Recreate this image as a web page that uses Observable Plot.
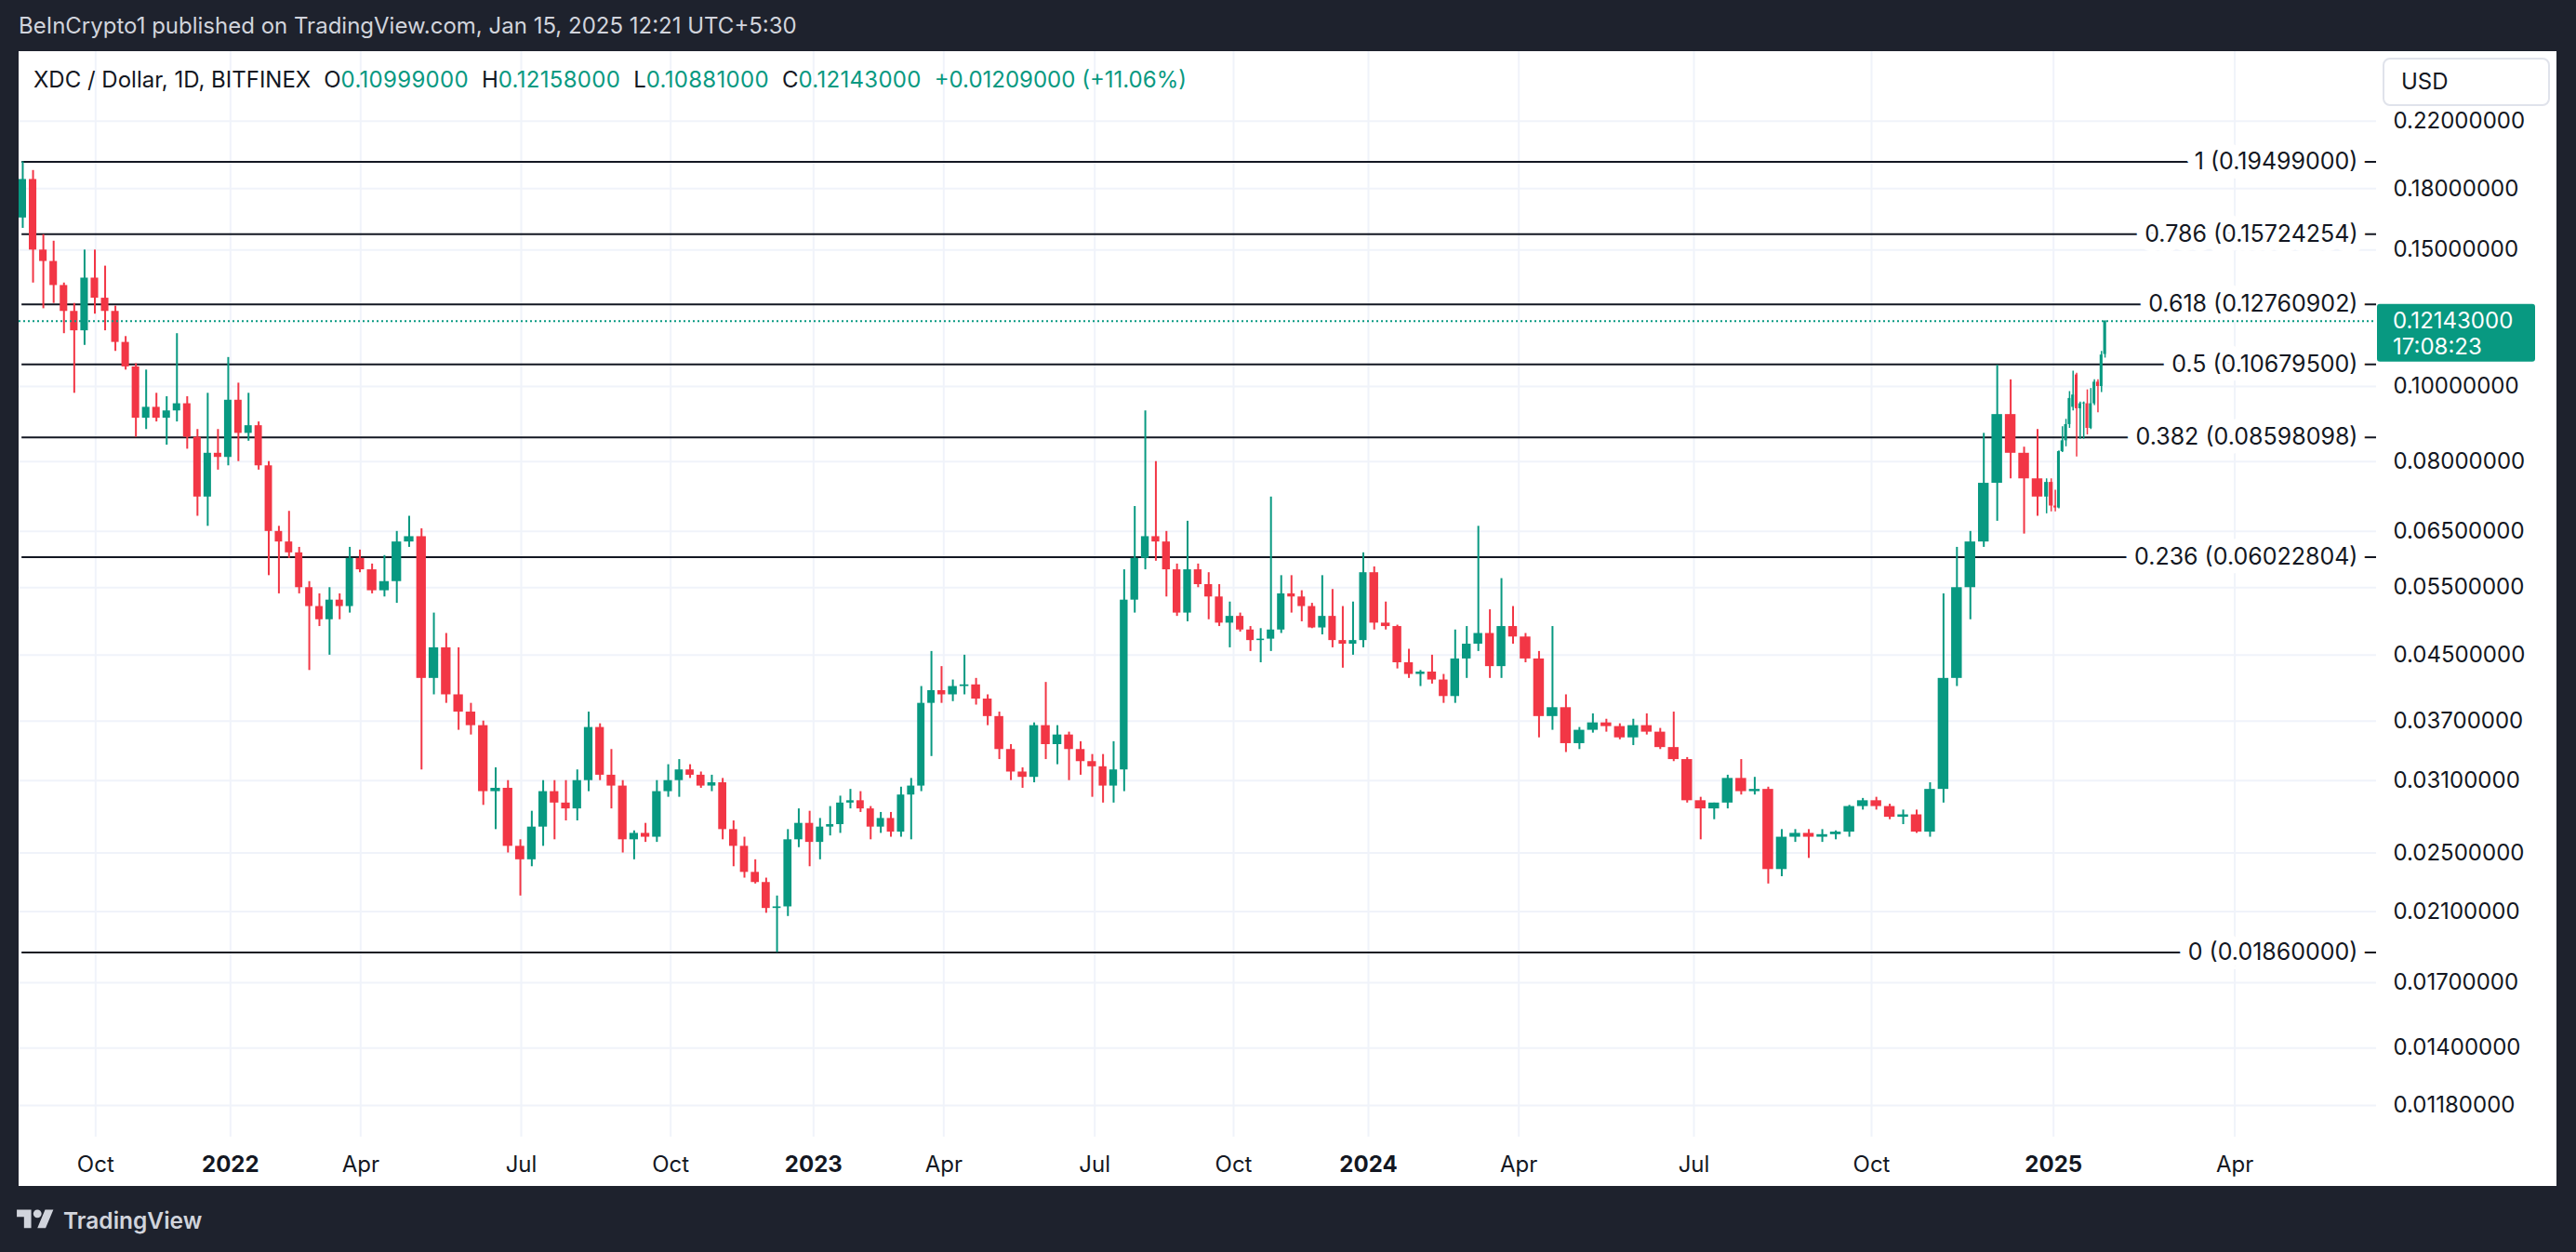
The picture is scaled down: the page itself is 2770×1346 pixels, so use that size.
<!DOCTYPE html>
<html>
<head>
<meta charset="utf-8">
<script src="https://cdn.jsdelivr.net/npm/d3@7"></script>
<script src="https://cdn.jsdelivr.net/npm/@observablehq/plot@0.6"></script>
<style>
  html, body { margin:0; padding:0; }
  body { width:2770px; height:1346px; background:#1e222d; position:relative; overflow:hidden; font-family: Inter, "Noto Sans", sans-serif; }
  #hdr { position:absolute; left:20px; top:14px; font-size:24px; line-height:28px; color:#d1d4dc; white-space:nowrap; }
  #panel { position:absolute; left:20px; top:55px; width:2729px; height:1220px; background:#fff; overflow:hidden; }
  #chart { position:absolute; left:0; top:0; }
  #legend { position:absolute; left:16px; top:17px; font-size:24px; line-height:28px; color:#131722; white-space:nowrap; }
  #legend .v { color:#089981; letter-spacing:0.3px; }
  #legend .k { margin-left:14px; }
  #legend .chg { margin-left:14px; color:#089981; }
  #usd { position:absolute; left:2542px; top:7px; width:180px; height:52px; box-sizing:border-box; border:2px solid #e0e3eb; border-radius:8px; font-size:24px; line-height:48px; padding-left:18px; color:#131722; background:#fff; }
  #footer { position:absolute; left:18px; top:1296px; display:flex; align-items:center; color:#d1d4dc; font-size:24.5px; font-weight:600; }
  #footer svg { margin-right:10px; }
</style>
</head>
<body>
<div id="hdr">BeInCrypto1 published on TradingView.com, Jan 15, 2025 12:21 UTC+5:30</div>
<div id="panel">
  <div id="chart"></div>
  <div id="legend"></div>
  <div id="usd">USD</div>
</div>
<div id="footer"><svg width="40" height="31" viewBox="0 0 36 28" fill="#d1d4dc"><path d="M14 22H7V11H0V4h14v18zM28 22h-8l7.5-18h8L28 22z"/><circle cx="20" cy="8" r="4"/></svg><span>TradingView</span></div>
<script>
// ---------- data ----------
// weekly candles (weeks starting Monday 2021-08-09 ... 2024-12-23)
const firstMonday = "2021-08-09";
const open = [
  0.165, 0.185, 0.150, 0.145, 0.135, 0.125, 0.118, 0.138, 0.130, 0.125,
  0.114, 0.106, 0.091, 0.094, 0.091, 0.093, 0.095, 0.086, 0.072, 0.082,
  0.081, 0.096, 0.087, 0.089, 0.079, 0.065, 0.063, 0.061, 0.055, 0.052,
  0.050, 0.053, 0.052, 0.060, 0.058, 0.0545, 0.056, 0.063, 0.064, 0.042,
  0.046, 0.040, 0.038, 0.0365, 0.030, 0.0303, 0.0255, 0.0245, 0.027, 0.030,
  0.029, 0.0285, 0.031, 0.0363, 0.0315, 0.0305, 0.026, 0.0265, 0.0262, 0.030,
  0.031, 0.032, 0.0315, 0.0305, 0.0308, 0.0268, 0.0255, 0.0236, 0.0229, 0.0212,
  0.0213, 0.026, 0.0273, 0.0258, 0.027, 0.0272, 0.029, 0.0292, 0.0285, 0.027,
  0.0277, 0.0266, 0.0297, 0.0305, 0.039, 0.0405, 0.040, 0.041, 0.0412, 0.0395,
  0.0375, 0.034, 0.0318, 0.0313, 0.0365, 0.0345, 0.0355, 0.034, 0.0328, 0.0323,
  0.0305, 0.032, 0.053, 0.060, 0.064, 0.063, 0.058, 0.051, 0.058, 0.0555,
  0.0535, 0.0495, 0.0505, 0.0485, 0.047, 0.0472, 0.0485, 0.054, 0.0535, 0.052,
  0.0488, 0.0505, 0.047, 0.0465, 0.047, 0.0575, 0.0495, 0.049, 0.044, 0.0425,
  0.0428, 0.0418, 0.0398, 0.0445, 0.0465, 0.048, 0.0435, 0.049, 0.0475, 0.0445,
  0.0375, 0.0385, 0.0346, 0.036, 0.0368, 0.0364, 0.0352, 0.0365, 0.0358, 0.0342,
  0.033, 0.0292, 0.0285, 0.029, 0.0312, 0.030, 0.0302, 0.0238, 0.0262, 0.0265,
  0.0262, 0.0264, 0.0266, 0.0287, 0.0292, 0.0287, 0.0278, 0.028, 0.0266, 0.0302,
  0.042, 0.055, 0.063, 0.075, 0.092, 0.082, 0.076
];
const high = [
  0.195, 0.190, 0.157, 0.154, 0.136, 0.128, 0.150, 0.150, 0.143, 0.127,
  0.116, 0.107, 0.105, 0.098, 0.097, 0.117, 0.097, 0.088, 0.098, 0.088,
  0.109, 0.101, 0.098, 0.090, 0.080, 0.066, 0.069, 0.062, 0.056, 0.054,
  0.055, 0.054, 0.062, 0.0615, 0.059, 0.0605, 0.065, 0.068, 0.0655, 0.051,
  0.048, 0.046, 0.039, 0.037, 0.0322, 0.031, 0.026, 0.0283, 0.031, 0.031,
  0.031, 0.032, 0.038, 0.0367, 0.034, 0.031, 0.0267, 0.0273, 0.031, 0.0325,
  0.033, 0.0325, 0.0318, 0.0315, 0.0312, 0.0275, 0.0262, 0.0245, 0.0232, 0.022,
  0.0268, 0.0285, 0.0283, 0.0277, 0.0287, 0.0296, 0.0302, 0.030, 0.0287, 0.0282,
  0.0282, 0.0304, 0.0312, 0.041, 0.0455, 0.0435, 0.0418, 0.045, 0.042, 0.040,
  0.038, 0.0345, 0.0322, 0.0368, 0.0415, 0.0365, 0.0358, 0.0348, 0.0335, 0.0335,
  0.0348, 0.058, 0.070, 0.093, 0.080, 0.065, 0.059, 0.067, 0.059, 0.0575,
  0.0555, 0.0527, 0.051, 0.049, 0.0487, 0.072, 0.057, 0.057, 0.0545, 0.0525,
  0.057, 0.0547, 0.052, 0.0527, 0.061, 0.0585, 0.0527, 0.0492, 0.0458, 0.043,
  0.045, 0.0425, 0.0485, 0.049, 0.066, 0.0515, 0.0565, 0.052, 0.048, 0.0455,
  0.049, 0.040, 0.0363, 0.0378, 0.0372, 0.0367, 0.0372, 0.0378, 0.0362, 0.038,
  0.0332, 0.0295, 0.029, 0.0315, 0.033, 0.0313, 0.0304, 0.0268, 0.0268, 0.0268,
  0.0268, 0.0267, 0.0288, 0.0294, 0.0295, 0.0289, 0.0284, 0.0284, 0.0308, 0.054,
  0.062, 0.065, 0.087, 0.1065, 0.102, 0.0835, 0.088
];
const low = [
  0.160, 0.136, 0.126, 0.128, 0.117, 0.098, 0.113, 0.124, 0.118, 0.111,
  0.105, 0.086, 0.088, 0.090, 0.084, 0.090, 0.083, 0.068, 0.066, 0.078,
  0.079, 0.080, 0.085, 0.078, 0.057, 0.054, 0.060, 0.054, 0.043, 0.049,
  0.045, 0.050, 0.051, 0.0575, 0.054, 0.0535, 0.0525, 0.062, 0.032, 0.040,
  0.039, 0.036, 0.0355, 0.0288, 0.0268, 0.025, 0.022, 0.024, 0.0255, 0.026,
  0.0275, 0.0275, 0.030, 0.031, 0.0285, 0.025, 0.0245, 0.0258, 0.0258, 0.0295,
  0.0295, 0.0312, 0.0303, 0.030, 0.026, 0.024, 0.0232, 0.0228, 0.0209, 0.0186,
  0.0207, 0.0254, 0.024, 0.0245, 0.0263, 0.0265, 0.0285, 0.0282, 0.026, 0.0265,
  0.0262, 0.0262, 0.026, 0.030, 0.0333, 0.039, 0.0392, 0.040, 0.0388, 0.0365,
  0.033, 0.031, 0.0303, 0.0308, 0.033, 0.0325, 0.031, 0.0315, 0.0295, 0.029,
  0.029, 0.030, 0.051, 0.058, 0.0595, 0.0535, 0.0505, 0.0497, 0.055, 0.050,
  0.049, 0.046, 0.0482, 0.0455, 0.044, 0.0455, 0.048, 0.051, 0.0497, 0.0487,
  0.0478, 0.046, 0.0433, 0.045, 0.046, 0.0485, 0.0485, 0.0432, 0.042, 0.041,
  0.0413, 0.039, 0.039, 0.042, 0.0455, 0.042, 0.042, 0.0465, 0.044, 0.0352,
  0.036, 0.0337, 0.034, 0.0357, 0.0358, 0.035, 0.0344, 0.0355, 0.034, 0.0328,
  0.029, 0.026, 0.0276, 0.0285, 0.0297, 0.0297, 0.0228, 0.0233, 0.0258, 0.0246,
  0.0258, 0.026, 0.0262, 0.0284, 0.0284, 0.0276, 0.0272, 0.0265, 0.0262, 0.029,
  0.041, 0.050, 0.062, 0.067, 0.076, 0.0645, 0.068
];
const close = [
  0.185, 0.150, 0.145, 0.135, 0.125, 0.118, 0.138, 0.130, 0.125, 0.114,
  0.106, 0.091, 0.094, 0.091, 0.093, 0.095, 0.086, 0.072, 0.082, 0.081,
  0.096, 0.087, 0.089, 0.079, 0.065, 0.063, 0.061, 0.055, 0.052, 0.050,
  0.053, 0.052, 0.060, 0.058, 0.0545, 0.056, 0.063, 0.064, 0.042, 0.046,
  0.040, 0.038, 0.0365, 0.030, 0.0303, 0.0255, 0.0245, 0.027, 0.030, 0.029,
  0.0285, 0.031, 0.0363, 0.0315, 0.0305, 0.026, 0.0265, 0.0262, 0.030, 0.031,
  0.032, 0.0315, 0.0305, 0.0308, 0.0268, 0.0255, 0.0236, 0.0229, 0.0212, 0.0213,
  0.026, 0.0273, 0.0258, 0.027, 0.0272, 0.029, 0.0292, 0.0285, 0.027, 0.0277,
  0.0266, 0.0297, 0.0305, 0.039, 0.0405, 0.040, 0.041, 0.0412, 0.0395, 0.0375,
  0.034, 0.0318, 0.0313, 0.0365, 0.0345, 0.0355, 0.034, 0.0328, 0.0323, 0.0305,
  0.032, 0.053, 0.060, 0.064, 0.063, 0.058, 0.051, 0.058, 0.0555, 0.0535,
  0.0495, 0.0505, 0.0485, 0.047, 0.0472, 0.0485, 0.054, 0.0535, 0.052, 0.0488,
  0.0505, 0.047, 0.0465, 0.047, 0.0575, 0.0495, 0.049, 0.044, 0.0425, 0.0428,
  0.0418, 0.0398, 0.0445, 0.0465, 0.048, 0.0435, 0.049, 0.0475, 0.0445, 0.0375,
  0.0385, 0.0346, 0.036, 0.0368, 0.0364, 0.0352, 0.0365, 0.0358, 0.0342, 0.033,
  0.0292, 0.0285, 0.029, 0.0312, 0.030, 0.0302, 0.0238, 0.0262, 0.0265, 0.0262,
  0.0264, 0.0266, 0.0287, 0.0292, 0.0287, 0.0278, 0.028, 0.0266, 0.0302, 0.042,
  0.055, 0.063, 0.075, 0.092, 0.082, 0.076, 0.072
];
// daily candles for the last stretch (2024-12-30 ... 2025-01-15)
const firstDay = "2024-12-30";
const dOpen  = [0.0720, 0.0752, 0.0701, 0.0697, 0.0824, 0.0851, 0.0893, 0.0940, 0.1035, 0.0936, 0.0950, 0.0950, 0.0883, 0.0950, 0.1013, 0.1000, 0.10999];
const dHigh  = [0.0760, 0.0760, 0.0735, 0.0826, 0.0887, 0.0907, 0.0985, 0.1047, 0.1040, 0.0955, 0.0955, 0.0990, 0.0994, 0.1020, 0.1020, 0.1110, 0.12158];
const dLow   = [0.0685, 0.0689, 0.0689, 0.0695, 0.0822, 0.0836, 0.0883, 0.0930, 0.0811, 0.0855, 0.0855, 0.0866, 0.0880, 0.0945, 0.0925, 0.0982, 0.10881];
const dClose = [0.0752, 0.0701, 0.0697, 0.0824, 0.0851, 0.0893, 0.0965, 0.0975, 0.0936, 0.0950, 0.0952, 0.0883, 0.0950, 0.1013, 0.1000, 0.1098, 0.12143];
// last daily bar shown in the legend
const lastDay = { o: 0.10999, h: 0.12158, l: 0.10881, c: 0.12143, chg: 0.01209, pct: 11.06 };
const countdown = "17:08:23";

// price axis ticks (log scale)
const priceTicks = [0.22, 0.18, 0.15, 0.10, 0.08, 0.065, 0.055, 0.045, 0.037, 0.031, 0.025, 0.021, 0.017, 0.014, 0.0118];
// time axis ticks
const tickDates = ["2021-10-01","2022-01-01","2022-04-01","2022-07-01","2022-10-01","2023-01-01","2023-04-01","2023-07-01","2023-10-01","2024-01-01","2024-04-01","2024-07-01","2024-10-01","2025-01-01","2025-04-01"];
const tickLabels = ["Oct","2022","Apr","Jul","Oct","2023","Apr","Jul","Oct","2024","Apr","Jul","Oct","2025","Apr"];
// Fibonacci retracement
const fibLevels = [1, 0.786, 0.618, 0.5, 0.382, 0.236, 0];
const fibPrices = [0.19499, 0.15724254, 0.12760902, 0.106795, 0.08598098, 0.06022804, 0.0186];
const fibStart = "2021-08-12";

// ---------- build ----------
const up = "#089981", down = "#f23645";
const dayStart = new Date(firstDay);
const starts = d3.utcMonday.range(new Date(firstMonday), dayStart);
const weekly = [];
for (let i = 0; i < Math.min(starts.length, open.length); i++) {
  const s = starts[i];
  const e = new Date(Math.min(+d3.utcDay.offset(s, 7), +dayStart));
  weekly.push({ start: s, end: e, mid: new Date((+s + +e) / 2), o: open[i], h: high[i], l: low[i], c: close[i], col: close[i] >= open[i] ? up : down });
}
const daily = dOpen.map((o, i) => {
  const s = d3.utcDay.offset(dayStart, i), e = d3.utcDay.offset(dayStart, i + 1);
  return { start: s, end: e, mid: new Date((+s + +e) / 2), o, h: dHigh[i], l: dLow[i], c: dClose[i], col: dClose[i] >= o ? up : down };
});
const fibs = fibLevels.map((lv, i) => ({ level: lv, price: fibPrices[i], label: `${lv} (${fibPrices[i].toFixed(8)})` }));
const ticks = tickDates.map((d, i) => ({ date: new Date(d), label: tickLabels[i], year: /^\d{4}$/.test(tickLabels[i]) }));

// x scale calibration (TradingView spaces bars by index, so a piecewise time scale)
const W = 2729, H = 1220, MR = 194, MB = 53;
const xAnchorDates = ["2021-08-10","2021-10-01","2022-01-01","2022-04-01","2022-07-01","2022-10-01","2023-01-01","2023-04-01","2023-07-01","2023-10-01","2024-01-01","2024-04-01","2024-07-01","2024-10-01","2024-12-30","2025-01-01","2025-01-16","2025-04-01","2025-06-23"].map(d => new Date(d));
const xAnchorPx = [0, 82.3, 227.3, 367.3, 540, 700.7, 854.3, 994.3, 1156.7, 1306, 1451, 1612.7, 1801, 1992, 2177.7, 2187.7, 2245, 2382.6, W - MR];
const xEnd = xAnchorDates[xAnchorDates.length - 1];

const grid = "#f0f3fa";
const plot = Plot.plot({
  width: W, height: H,
  marginLeft: 0, marginRight: MR, marginTop: 0, marginBottom: MB,
  style: { background: "transparent", fontFamily: "Inter, 'Noto Sans', sans-serif", fontSize: "24px", color: "#131722", overflow: "visible" },
  x: { type: "utc", domain: xAnchorDates, range: xAnchorPx, axis: null },
  y: { type: "log", domain: [0.010745, 0.2705], axis: null },
  color: { type: "identity" },
  marks: [
    Plot.ruleY(priceTicks, { stroke: grid, strokeWidth: 2 }),
    Plot.ruleX(ticks, { x: "date", stroke: grid, strokeWidth: 2 }),
    Plot.ruleY(fibs, { y: "price", x1: new Date(fibStart), x2: xEnd, stroke: "#131722", strokeWidth: 2 }),
    Plot.ruleX(weekly, { x: "mid", y1: "l", y2: "h", stroke: "col", strokeWidth: 2 }),
    Plot.rect(weekly, { x1: "start", x2: "end", y1: "o", y2: "c", fill: "col", insetLeft: 1.5, insetRight: 1.5 }),
    Plot.ruleX(daily, { x: "mid", y1: "l", y2: "h", stroke: "col", strokeWidth: 1.5 }),
    Plot.rect(daily, { x1: "start", x2: "end", y1: "o", y2: "c", fill: "col", insetLeft: 0.4, insetRight: 0.4 }),
    Plot.text(fibs, { y: "price", text: "label", frameAnchor: "right", dx: -20, textAnchor: "end", fill: "#131722", stroke: "white", strokeWidth: 20, strokeLinejoin: "round", paintOrder: "stroke", fontSize: 25 }),
    Plot.ruleY([lastDay.c], { stroke: up, strokeWidth: 2, strokeDasharray: "2,3" }),
    Plot.text(priceTicks, { y: d => d, text: d => d.toFixed(8), frameAnchor: "right", dx: 18, textAnchor: "start", fill: "#131722", fontSize: 24 }),
    Plot.text(ticks.filter(t => !t.year), { x: "date", text: "label", frameAnchor: "bottom", dy: 37, fill: "#131722", fontSize: 24 }),
    Plot.text(ticks.filter(t => t.year), { x: "date", text: "label", frameAnchor: "bottom", dy: 37, fill: "#131722", fontSize: 24, fontWeight: "bold" })
  ]
});
document.getElementById("chart").appendChild(plot);

// current price tag on the price axis
const yv = plot.scale("y").apply(lastDay.c);
const right = W - MR;
const g = d3.select(plot).append("g").attr("font-family", "Inter, 'Noto Sans', sans-serif").attr("font-size", 24).attr("text-anchor", "start");
g.append("rect").attr("x", right + 1).attr("y", yv - 18).attr("width", 170).attr("height", 62).attr("rx", 3).attr("fill", up);
g.append("text").attr("x", right + 18).attr("y", yv).attr("dy", "0.35em").attr("fill", "white").text(lastDay.c.toFixed(8));
g.append("text").attr("x", right + 18).attr("y", yv + 28).attr("dy", "0.35em").attr("fill", "white").text(countdown);

// legend
const f8 = v => v.toFixed(8);
document.getElementById("legend").innerHTML =
  `XDC / Dollar, 1D, BITFINEX` +
  `<span class="k">O</span><span class="v">${f8(lastDay.o)}</span>` +
  `<span class="k">H</span><span class="v">${f8(lastDay.h)}</span>` +
  `<span class="k">L</span><span class="v">${f8(lastDay.l)}</span>` +
  `<span class="k">C</span><span class="v">${f8(lastDay.c)}</span>` +
  `<span class="chg">+${f8(lastDay.chg)} (+${lastDay.pct.toFixed(2)}%)</span>`;
</script>
</body>
</html>
